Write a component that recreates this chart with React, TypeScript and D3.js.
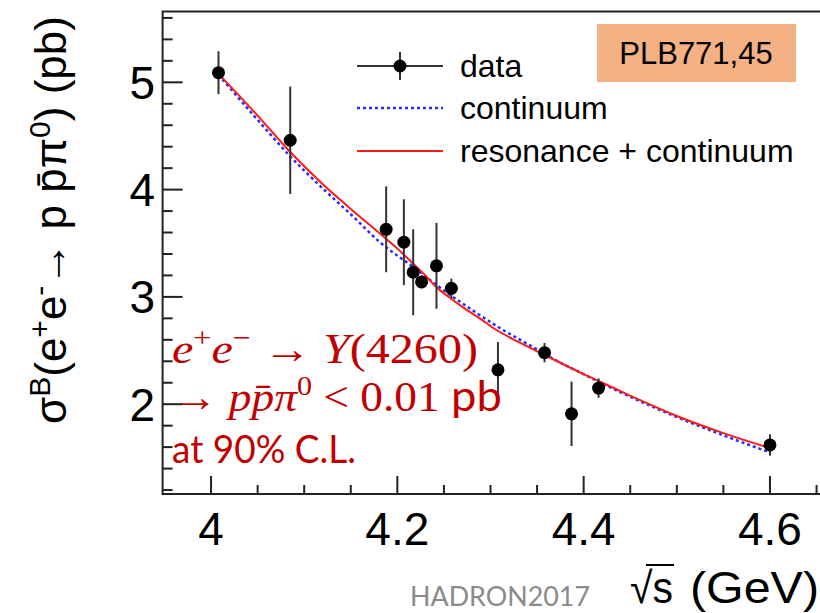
import React from 'react';
import * as d3 from 'd3';

// Data points: sqrt(s) (GeV), Born cross section (pb), error (pb)
const energies = [4.008, 4.085, 4.188, 4.207, 4.217, 4.226, 4.242, 4.258, 4.308, 4.358, 4.387, 4.416, 4.600];
const xsec = [5.09, 4.46, 3.63, 3.51, 3.23, 3.14, 3.29, 3.08, 2.32, 2.48, 1.91, 2.15, 1.62];
const xsecErr = [0.20, 0.50, 0.40, 0.40, 0.40, 0.06, 0.40, 0.09, 0.26, 0.09, 0.30, 0.09, 0.10];

// Continuum fit (blue dotted)
const contE = [4.008, 4.05, 4.085, 4.12, 4.15, 4.18, 4.22, 4.25, 4.28, 4.31, 4.34, 4.37, 4.40, 4.43, 4.46, 4.50, 4.55, 4.60];
const contXs = [5.07, 4.65, 4.31, 4.01, 3.77, 3.52, 3.26, 3.06, 2.88, 2.71, 2.56, 2.41, 2.28, 2.15, 2.03, 1.88, 1.71, 1.55];

// Resonance + continuum fit (red solid)
const fullE = [4.008, 4.05, 4.085, 4.12, 4.15, 4.18, 4.20, 4.217, 4.23, 4.242, 4.256, 4.271, 4.29, 4.303, 4.33, 4.36, 4.40, 4.43, 4.46, 4.50, 4.55, 4.60];
const fullXs = [5.08, 4.69, 4.35, 4.05, 3.82, 3.60, 3.45, 3.31, 3.20, 3.09, 2.995, 2.90, 2.79, 2.71, 2.58, 2.45, 2.28, 2.16, 2.04, 1.89, 1.73, 1.59];

const xTicks = [4, 4.2, 4.4, 4.6];
const yTicks = [2, 3, 4, 5];
const legendLabels = ['data', 'continuum', 'resonance + continuum'];

export default function App() {
  const W = 820, H = 613;
  const x = d3.scaleLinear().domain([3.948, 4.655]).range([162.6, 821.2]);
  const y = d3.scaleLinear().domain([1.163, 5.66]).range([494, 11.5]);
  const line = d3.line<[number, number]>().x(d => x(d[0])).y(d => y(d[1])).curve(d3.curveMonotoneX);

  const contPts: [number, number][] = contE.map((e, i) => [e, contXs[i]]);
  const fullPts: [number, number][] = fullE.map((e, i) => [e, fullXs[i]]);

  const isMult = (v: number, base: number, step: number) => {
    const r = (v - base) / step;
    return Math.abs(r - Math.round(r)) < 1e-6;
  };
  const xMinor = d3.range(0, 15).map(i => 3.95 + i * 0.05)
    .filter(v => v > 3.96 && v < 4.655 && !isMult(v, 4, 0.2));
  const yMinor = d3.range(0, 23).map(i => 1.2 + i * 0.2)
    .filter(v => v < 5.65 && !isMult(v, 2, 1));

  const [x0, x1] = x.range();
  const [yb, yt] = y.range();
  const axisColor = '#222';
  const sans = 'Liberation Sans, Arial, sans-serif';
  const serif = 'Liberation Serif, Times New Roman, serif';
  const slideSans = 'Lato, Open Sans, sans-serif';
  const red = '#C00000';

  return (
    <svg width={W} height={H} style={{ position: 'absolute', left: 0, top: 0, background: '#fff' }}>
      <rect x={0} y={0} width={W} height={H} fill="#fff" />
      {/* frame */}
      <rect x={x0} y={yt} width={x1 - x0} height={yb - yt} fill="none" stroke={axisColor} strokeWidth={2} />
      {/* y ticks */}
      {yTicks.map(t => (
        <g key={'yt' + t}>
          <line x1={x0} x2={x0 + 20} y1={y(t)} y2={y(t)} stroke={axisColor} strokeWidth={2} />
          <text x={155} y={y(t) + 16.5} textAnchor="end" fontFamily={sans} fontSize={46} fill="#000">{t}</text>
        </g>
      ))}
      {yMinor.map(t => (
        <line key={'ym' + t} x1={x0} x2={x0 + 10} y1={y(t)} y2={y(t)} stroke={axisColor} strokeWidth={2} />
      ))}
      {/* x ticks */}
      {xTicks.map(t => (
        <g key={'xt' + t}>
          <line x1={x(t)} x2={x(t)} y1={yb} y2={yb - 18} stroke={axisColor} strokeWidth={2} />
          <text x={x(t)} y={545} textAnchor="middle" fontFamily={sans} fontSize={46} fill="#000">{String(t)}</text>
        </g>
      ))}
      {xMinor.map(t => (
        <line key={'xm' + t} x1={x(t)} x2={x(t)} y1={yb} y2={yb - 9} stroke={axisColor} strokeWidth={2} />
      ))}

      {/* curves */}
      <path d={line(contPts) || ''} fill="none" stroke="#2a2aff" strokeWidth={2.5} strokeDasharray="3,3" />
      <path d={line(fullPts) || ''} fill="none" stroke="#ff1a1a" strokeWidth={2} />

      {/* data */}
      {energies.map((e, i) => (
        <g key={'d' + i}>
          <line x1={x(e)} x2={x(e)} y1={y(xsec[i] + xsecErr[i])} y2={y(xsec[i] - xsecErr[i])} stroke="#333" strokeWidth={2} />
          <circle cx={x(e)} cy={y(xsec[i])} r={6.5} fill="#000" />
        </g>
      ))}

      {/* legend */}
      <g>
        <line x1={357} x2={443} y1={66} y2={66} stroke="#333" strokeWidth={2} />
        <line x1={400} x2={400} y1={52} y2={80} stroke="#333" strokeWidth={2} />
        <circle cx={400} cy={66} r={6.5} fill="#000" />
        <line x1={357} x2={443} y1={108} y2={108} stroke="#2a2aff" strokeWidth={2.5} strokeDasharray="3,3" />
        <line x1={357} x2={443} y1={151} y2={151} stroke="#ff1a1a" strokeWidth={2} />
        {legendLabels.map((l, i) => (
          <text key={l} x={460} y={[66, 108, 151][i] + 10.5} fontFamily={sans} fontSize={32} fill="#000">{l}</text>
        ))}
      </g>

      {/* PLB box */}
      <rect x={597} y={24} width={199} height={58} fill="#F4B183" />
      <text x={696} y={64} textAnchor="middle" fontFamily={sans} fontSize={31} fill="#000">PLB771,45</text>

      {/* y axis title */}
      <text transform="translate(66,220) rotate(-90)" textAnchor="middle" fontFamily={sans} fontSize={44} fill="#000">
        σ<tspan dy={-16} fontSize={30}>B</tspan><tspan dy={16}>(e</tspan><tspan dy={-16} fontSize={30}>+</tspan><tspan dy={16}>e</tspan><tspan dy={-16} fontSize={30}>-</tspan><tspan dy={16}>→ p p̄π</tspan><tspan dy={-16} fontSize={30}>0</tspan><tspan dy={16}>) (pb)</tspan>
      </text>

      {/* x axis title */}
      <text x={630} y={603} fontFamily={sans} fontSize={44} fill="#000" textLength={43} lengthAdjust="spacingAndGlyphs">√s</text>
      <line x1={646} x2={674} y1={565} y2={565} stroke="#000" strokeWidth={2} />
      <text x={690} y={603} fontFamily={sans} fontSize={44} fill="#000" textLength={129} lengthAdjust="spacingAndGlyphs">(GeV)</text>
      <text x={410} y={606} fontFamily={slideSans} fontSize={26} fill="#8a8a8a" textLength={180} lengthAdjust="spacingAndGlyphs">HADRON2017</text>

      {/* annotation */}
      <text x={172} y={363} fontFamily={serif} fontSize={42} fill={red} textLength={306} lengthAdjust="spacingAndGlyphs">
        <tspan fontStyle="italic">e</tspan><tspan dy={-16} fontSize={28}>+</tspan><tspan dy={16} fontStyle="italic">e</tspan><tspan dy={-16} fontSize={28}>−</tspan><tspan dy={16}> → </tspan><tspan fontStyle="italic">Y</tspan><tspan>(4260)</tspan>
      </text>
      <text x={172} y={411} fontFamily={serif} fontSize={42} fill={red} textLength={330} lengthAdjust="spacingAndGlyphs">
        <tspan>→ </tspan><tspan fontStyle="italic">pp̄π</tspan><tspan dy={-16} fontSize={28}>0</tspan><tspan dy={16}> &lt; 0.01 </tspan><tspan fontFamily={slideSans}>pb</tspan>
      </text>
      <text x={172} y={463} fontFamily={slideSans} fontSize={38} fill={red} textLength={184} lengthAdjust="spacingAndGlyphs">at 90% C.L.</text>
    </svg>
  );
}
